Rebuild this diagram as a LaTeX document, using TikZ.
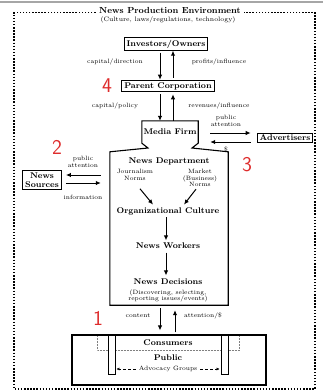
\documentclass[tikz,border=0pt]{standalone}
\usetikzlibrary{arrows.meta,positioning}
\definecolor{numred}{RGB}{222,44,44}
\tikzset{
  hdr/.style={font=\fontsize{8.3}{9}\selectfont\bfseries, inner sep=1.5pt, align=center},
  box/.style={hdr, draw, line width=1.1pt, inner xsep=2.5pt, inner ysep=2pt},
  lbl/.style={font=\fontsize{6.2}{6.8}\selectfont, inner sep=0pt, align=center},
  num/.style={font=\fontsize{21}{21}\selectfont\sffamily, text=numred, inner sep=0pt},
  flow/.style={-{Latex[length=5pt,width=4.5pt]}, line width=1pt},
  envline/.style={line width=1.7pt, dash pattern=on 1.5pt off 1.6pt},
}
\begin{document}
\begin{tikzpicture}[x=1pt,y=-1pt]
\useasboundingbox (0,0) rectangle (323,392);
\draw[gray!70, line width=1.5pt] (0,2) -- (323,2);

% environment frame
\node[hdr, font=\fontsize{8.8}{9}\selectfont\bfseries] (env) at (170,10) {News Production Environment};
\node[lbl, font=\fontsize{6.4}{7}\selectfont] (cult) at (168,20) {(Culture, laws/regulations, technology)};
\draw[envline] ([xshift=-2]env.west |- 0,12.5) -- (14,12.5) -- (14,389) -- (315,389) -- (315,12.5) -- ([xshift=2]env.east |- 0,12.5);

% owners and corporation
\node[box] (inv) at (166,44) {Investors/Owners};
\node[box] (par) at (168,86) {Parent Corporation};
\draw[flow, shorten <=2pt] ([xshift=-6]inv.south) -- ([xshift=-6]inv.south |- par.north);
\draw[flow, shorten <=2pt] ([xshift=7]inv.south |- par.north) -- ([xshift=7]inv.south);
\node[lbl] (capdir) at (115,62) {capital/direction};
\node[lbl] (profit) at (219,62) {profits/influence};
\node[num] (n4) at (107,86) {4};

% media firm and news department
\node[hdr, minimum width=56, minimum height=22] (firm) at (170,132) {Media Firm};
\node[minimum width=118, minimum height=153, inner sep=0pt] (dept) at (169,228.5) {};
\draw[line width=1.1pt] (dept.south west) -- (dept.north west) -- (148,148) -- (firm.south west) -- (firm.north west)
  -- (firm.north east) -- (firm.south east) -- (192,148) -- (dept.north east) -- (dept.south east) -- cycle;
\draw[flow, shorten <=2pt] ([xshift=-8]par.south) -- ([xshift=-10]firm.north);
\draw[flow, shorten >=2pt] ([xshift=3]firm.north) -- ([xshift=5]par.south);
\node[lbl] (cappol) at (115,106) {capital/policy};
\node[lbl] (revinf) at (219,106) {revenues/influence};

% advertisers
\node[box] (adv) at (285,138) {Advertisers};
\draw[flow, shorten <=12pt, shorten >=6pt] ([yshift=-1]firm.east) -- ([yshift=-1]firm.east -| adv.west);
\draw[flow, shorten <=6pt, shorten >=12pt] ([yshift=-10]firm.east -| adv.west) -- ([yshift=-10]firm.east);
\node[lbl] (advatt) at (226,121) {public\\attention};
\node[lbl] (dollar) at (226,149) {\$};
\node[num] (n3) at (247,165) {3};

% news sources
\node[box] (src) at (42,180) {News\\Sources};
\draw[flow, shorten <=9pt, shorten >=4pt] ([yshift=5]src.east -| dept.west) -- ([yshift=5]src.east);
\draw[flow, shorten <=4pt, shorten >=9pt] ([yshift=-3]src.east) -- ([yshift=-3]src.east -| dept.west);
\node[lbl] (srcatt) at (83,162) {public\\attention};
\node[lbl] (info) at (83,197) {information};
\node[num] (n2) at (57,147) {2};

% inside the department
\node[hdr] (dep) at (169,161) {News Department};
\node[lbl] (jnorm) at (135,175) {Journalism\\Norms};
\node[lbl] (mnorm) at (200,178) {Market\\(Business)\\Norms};
\node[hdr] (org) at (168,211) {Organizational Culture};
\node[hdr] (wrk) at (168,246) {News Workers};
\node[hdr] (dec) at (168,282) {News Decisions};
\node[lbl] (decsub) at (168,296) {(Discovering, selecting,\\reporting issues/events)};
\draw[flow] ([xshift=5,yshift=-8]jnorm.south) -- ([xshift=-15,yshift=1]org.north);
\draw[flow] ([xshift=-4,yshift=-2]mnorm.south) -- ([xshift=16,yshift=1]org.north);
\draw[flow, shorten <=1pt, shorten >=1pt] ([xshift=-2]org.south) -- ([xshift=-2]org.south |- wrk.north);
\draw[flow, shorten <=2pt, shorten >=2pt] ([xshift=-2]wrk.south) -- ([xshift=-2]wrk.south |- dec.north);

% public
\node[draw, line width=1.1pt, minimum width=194, minimum height=50, inner sep=0pt] (pub) at (169,360) {};
\draw[flow, shorten <=3pt, shorten >=4pt] ([xshift=-9]dept.south) -- ([xshift=-9]dept.south |- pub.north);
\draw[flow, shorten <=2pt, shorten >=5pt] ([xshift=6]dept.south |- pub.north) -- ([xshift=6]dept.south);
\node[lbl] (cont) at (138,316) {content};
\node[lbl] (attd) at (203,316) {attention/\$};
\node[num] (n1) at (98,318) {1};
\draw[gray, densely dotted, line width=0.5pt] (97,336) -- (97,350) -- (239,350) -- (239,336);
\node[draw, fill=white, line width=0.8pt, minimum width=7, minimum height=39, inner sep=0pt] (barl) at (111.5,354.5) {};
\node[draw, fill=white, line width=0.8pt, minimum width=7, minimum height=39, inner sep=0pt] (barr) at (224.5,354.5) {};
\node[hdr] (cons) at (168,343) {Consumers};
\node[hdr] (pubt) at (168,358) {Public};
\node[lbl] (advo) at (168,369) {Advocacy Groups};
\draw[-{Latex[length=3pt,width=3pt]}, densely dashed, thin, shorten <=3pt, shorten >=1pt] (advo.west) -- (advo.west -| barl.east);
\draw[-{Latex[length=3pt,width=3pt]}, densely dashed, thin, shorten <=3pt, shorten >=1pt] (advo.east) -- (advo.east -| barr.west);
\end{tikzpicture}
\end{document}
